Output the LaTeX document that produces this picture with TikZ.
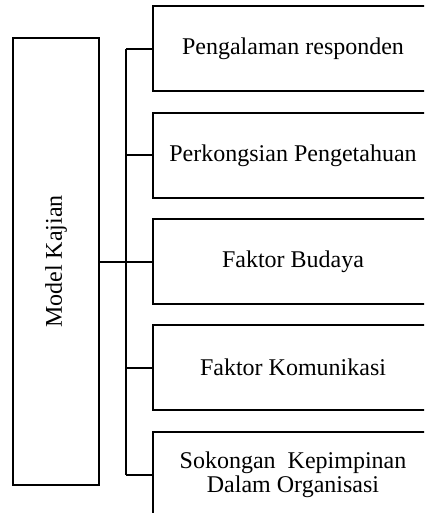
\documentclass[tikz,border=0pt]{standalone}
\usepackage{fontspec}
\setmainfont{Liberation Serif}
\usepackage{tikz}
\usetikzlibrary{positioning, calc}

\begin{document}
\begin{tikzpicture}[
    x=0.5pt, y=-0.5pt,
    model/.style={draw, line width=1pt, minimum width=43pt, minimum height=223.5pt, inner sep=0pt, font=\fontsize{12}{12}\selectfont},
    factor/.style={draw, line width=1pt, minimum width=140pt, minimum height=42.5pt, inner sep=0pt, align=center, font=\fontsize{12}{12}\selectfont},
    link/.style={line width=1pt}
]
    % Frame
    \useasboundingbox (0,0) rectangle (424,513);
    \clip (0,0) rectangle (424,513);

    % Model
    \node[model] (model) at (56,261.5) {\rotatebox{90}{Model Kajian}};

    % Factors
    \node[factor] (f1) at (293,49) {Pengalaman responden};
    \node[factor] (f2) at (293,155.5) {Perkongsian Pengetahuan};
    \node[factor] (f3) at (293,261.5) {Faktor Budaya};
    \node[factor] (f4) at (293,367.5) {Faktor Komunikasi};
    \node[factor] (f5) at (293,474.5) {Sokongan\ \ Kepimpinan\\Dalam Organisasi};

    % Bus
    \coordinate (bustop) at (126,49);
    \coordinate (busbot) at (126,474.5);
    \draw[link] (bustop) -- (busbot);
    \draw[link] (model.east) -- (bustop |- model.east);
    \foreach \f in {f1,f2,f3,f4,f5}
        \draw[link] (bustop |- \f.west) -- (\f.west);
\end{tikzpicture}
\end{document}
